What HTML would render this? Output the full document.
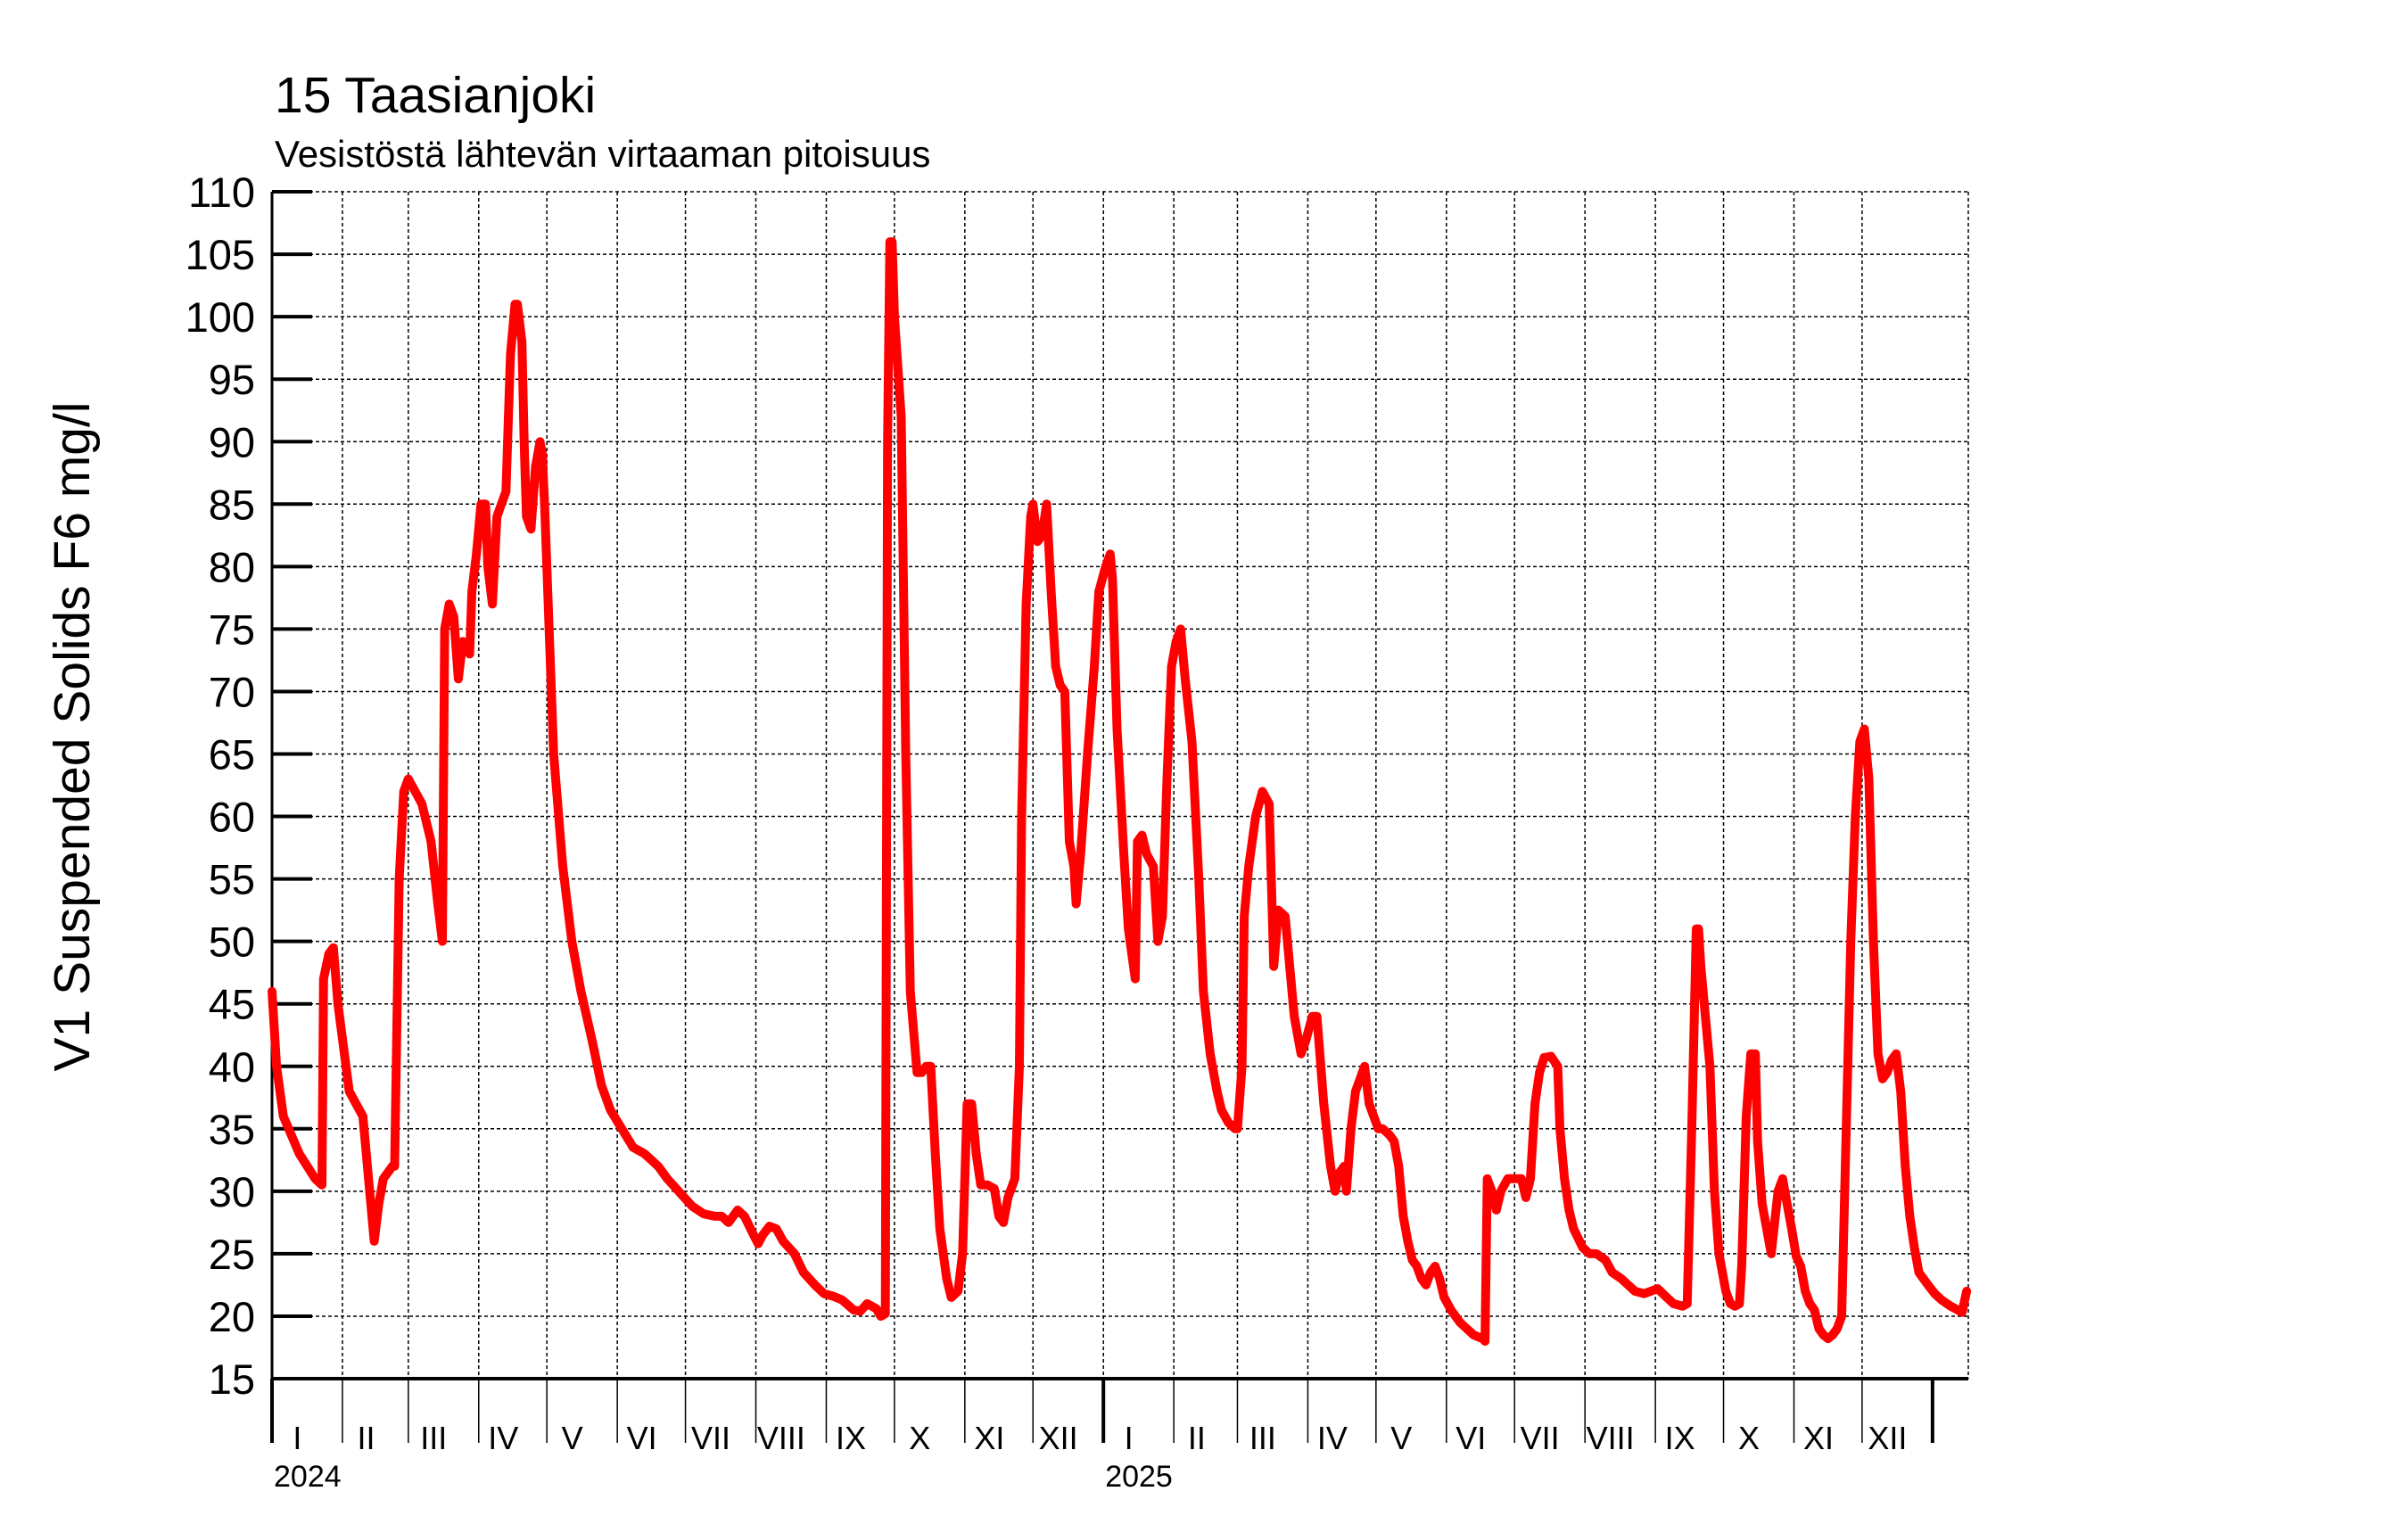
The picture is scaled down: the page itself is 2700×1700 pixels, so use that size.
<!DOCTYPE html>
<html><head><meta charset="utf-8"><style>
html,body{margin:0;padding:0;background:#fff;}
svg{display:block;font-family:"Liberation Sans",sans-serif;}
</style></head><body>
<svg id="chart" width="2700" height="1700" viewBox="0 0 2700 1700" xmlns="http://www.w3.org/2000/svg">
<text x="308" y="126" font-size="57">15 Taasianjoki</text>
<text x="308" y="187" font-size="42">Vesistöstä lähtevän virtaaman pitoisuus</text>
<text transform="translate(100,826) rotate(-90)" text-anchor="middle" font-size="57">V1 Suspended Solids F6 mg/l</text>
<g id="grid"></g>
<g id="axes"></g>
<g id="series"></g>
</svg>
<script>
const yTicks=[15,20,25,30,35,40,45,50,55,60,65,70,75,80,85,90,95,100,105,110];
const monthLabels=["I","II","III","IV","V","VI","VII","VIII","IX","X","XI","XII"];
const monthDays2024=[31,29,31,30,31,30,31,31,30,31,30,31];
const monthDays2025=[31,28,31,30,31,30,31,31,30,31,30,31];
const yearLabels=["2024","2025"];
const days=[0,2,5,12,19,22,22.7,25,27,29,34,37,40,43,45,47,49,53,54,56,58,60,63,66,70,73,75,76,78,80,82,84,87,88,90,92,94,95,97,99,101,103,105,107,108,110,111,112,114,116,118,119,120,122,124,128,132,136,141,145,149,154,159,164,170,174,179,185,190,195,198,201,205,208,212,214,216,219,222,225,230,234,239,243,247,251,256,259,262,266,268,270,271,272,273,274,277,279,281,284,286,288,290,292,294,297,299,302,304,306,308,310,312,315,318,320,322,324,327,329,330,332,334,335,337,339,341,343,345,347,349,351,353,354,356,359,362,364,367,369,370,372,375,377,380,381,383,385,388,390,392,394,396,398,400,402,405,408,410,413,416,418,421,424,425,427,428,430,433,436,439,441,443,446,448,450,453,455,458,460,463,466,468,470,472,473,475,477,479,481,483,485,487,489,492,494,496,498,500,502,504,506,508,510,512,514,516,519,523,526,529,533,534,535,537,539,541,544,548,550,552,554,556,558,560,563,566,567,569,571,573,577,580,583,587,590,594,597,600,604,607,610,614,617,621,623,625,627,628,629,632,633,635,637,640,642,644,646,647,649,651,653,654,656,658,660,663,665,667,669,671,673,675,677,679,681,683,685,687,689,691,693,695,697,699,701,703,705,707,709,711,713,715,717,719,721,723,725,729,732,735,739,742,744,746];
const values=[46,40,36,33,31,30.5,47,49,49.5,45,38,37,36,30,26,29,31,32,32,55,62,63,62,61,58,53,50,75,77,76,71,74,73,78,81,85,85,80,77,84,85,86,97,101,101,98,90,84,83,88,90,89,85,75,65,56,50,46,42,38.5,36.5,35,33.5,33,32,31,30,28.8,28.2,28,28,27.5,28.5,28,26.5,25.8,26.5,27.2,27,26,25,23.5,22.5,21.8,21.6,21.3,20.5,20.4,21,20.6,20,20.2,90,106,106,100,92,65,46,39.5,39.5,40,40,33,27,23,21.5,22,25,37,37,33,30.5,30.5,30.2,28,27.5,29.5,31,40,60,77,84,85,82,82.5,85,78,72,70.5,70,58,56,53,57,65,72,78,80,81,79,67,57,51,47,58,58.5,57,56,50,52,63,72,74,75,71,66,55,46,41,38,36.5,35.5,35,35,40,52,56,60,62,61,48,52.5,52,48,44,41,42,44,44,37,32,30,31.5,32,30,35,38,39,40,37,36,35,35,34.5,34,32,28,26,24.5,24,23,22.5,23.5,24,23,21.5,20.5,19.5,19,18.5,18.2,18,31,30,28.5,30,31,31,31,29.5,31,37,39.5,40.7,40.8,40,35,31,28.5,27,25.5,25,25,24.5,23.5,23,22.5,22,21.8,22,22.2,21.5,21,20.8,21,35,51,51,48,42,40,30,25,22,21,20.8,21,24,36,41,41,34,29,27,25,30,31,29,27,24.8,24,22,21,20.5,19,18.5,18.2,18.5,19,20,35,50,60,66,67,63,50,41,39,39.5,40.5,41,38,32,28,25.5,23.5,22.5,21.8,21.3,20.8,20.5,20.3,22];

const NS="http://www.w3.org/2000/svg";
const X0=305,X1=2207,PXD=2.547,Y0=1546,PXU=14.01,YMIN=15,TICKBOT=1618;
function xOf(d){return X0+d*PXD;}
function yOf(v){return Y0-(v-YMIN)*PXU;}
function mk(tag,attrs,parent){const e=document.createElementNS(NS,tag);for(const k in attrs)e.setAttribute(k,attrs[k]);parent.appendChild(e);return e;}
const grid=document.getElementById('grid'),axes=document.getElementById('axes'),series=document.getElementById('series');

yTicks.forEach(v=>{
  const y=yOf(v);
  if(v>YMIN){const g=mk('line',{x1:X0,x2:X1,y1:y,y2:y,stroke:'#000','stroke-width':1.5,'stroke-dasharray':'4,3'},grid);
  
  }
  const t=mk('line',{x1:X0,x2:350,y1:y,y2:y,stroke:'#000','stroke-width':4},axes);
  
  
  const l=mk('text',{x:286,y:y+17,'text-anchor':'end','font-size':47},axes);
  l.textContent=v;
  
  
});

let d=0;
const allMonths=monthDays2024.concat(monthDays2025);
allMonths.forEach((len,i)=>{
  const x=xOf(d);
  const isYear=(i%12===0);
  if(i>0){const g=mk('line',{x1:x,x2:x,y1:yOf(110),y2:Y0,stroke:'#000','stroke-width':1.5,'stroke-dasharray':'4,3'},grid);
  
  }
  const t=mk('line',{x1:x,x2:x,y1:Y0,y2:TICKBOT,stroke:'#000','stroke-width':isYear?4:1.5},axes);
  
  
  const l=mk('text',{x:x+len*PXD*0.36,y:1625,'text-anchor':'middle','font-size':36},axes);
  l.textContent=monthLabels[i%12];
  
  
  if(isYear){const yl=mk('text',{x:x+2,y:1667,'font-size':34},axes);
  yl.textContent=yearLabels[i/12];
  
  }
  d+=len;
});
const xe=xOf(d);
const yt=mk('line',{x1:xe,x2:xe,y1:Y0,y2:TICKBOT,stroke:'#000','stroke-width':4},axes);


const rg=mk('line',{x1:X1,x2:X1,y1:yOf(110),y2:Y0,stroke:'#000','stroke-width':1.5,'stroke-dasharray':'4,3'},grid);


const ya=mk('line',{x1:X0,x2:X0,y1:yOf(110),y2:TICKBOT,stroke:'#000','stroke-width':3},axes);


const xa=mk('line',{x1:X0,x2:X1,y1:Y0,y2:Y0,stroke:'#000','stroke-width':4},axes);



const pts=days.map((dd,i)=>xOf(dd).toFixed(1)+','+yOf(values[i]).toFixed(1)).join(' ');
const pl=mk('polyline',{points:pts,fill:'none',stroke:'#ff0000','stroke-width':10,'stroke-linejoin':'round','stroke-linecap':'round'},series);


</script>
</body></html>
